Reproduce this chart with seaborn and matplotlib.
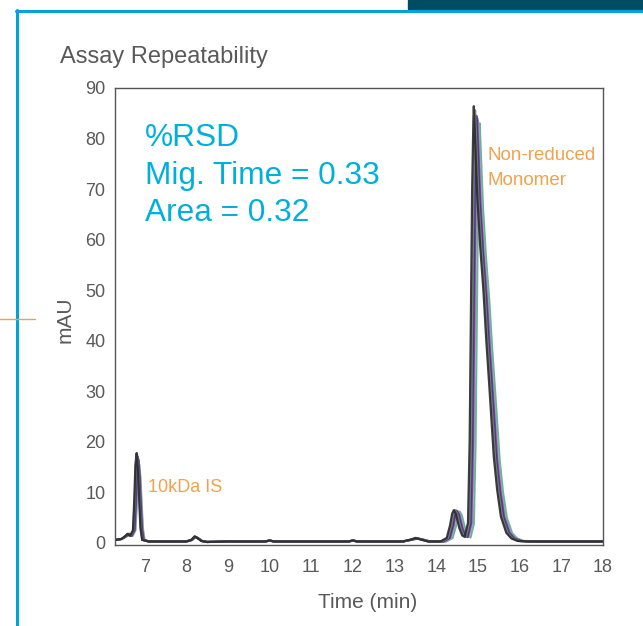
import pandas as pd
import matplotlib
matplotlib.use("Agg")
import matplotlib.pyplot as plt
from matplotlib.lines import Line2D
from matplotlib.patches import Rectangle
import seaborn as sns

# traces read off the overlay (time in min, signal in mAU)
# each run: IS region / flat middle / monomer region
t_black = [6.30, 6.45, 6.54, 6.59, 6.65, 6.72, 6.75, 6.78, 6.81, 6.84, 6.87, 6.90, 6.94,
           7.10, 7.50, 8.00, 8.12, 8.20, 8.27, 8.36, 8.50, 9.00, 9.90, 10.00, 10.10, 11.00, 11.90, 12.00, 12.10, 13.20, 13.40, 13.50, 13.62, 13.80,
           14.10, 14.25, 14.33, 14.38, 14.42, 14.47, 14.55, 14.62, 14.68, 14.76, 14.80, 14.83, 14.86, 14.89, 14.90,
           14.93, 14.98, 15.05, 15.13, 15.20, 15.28, 15.38, 15.46, 15.55, 15.68, 15.80, 15.95, 16.20, 17.00, 18.00]
v_black = [0.6, 0.8, 1.4, 1.8, 1.4, 2.5, 8.0, 15.5, 17.8, 14.5, 8.5, 3.0, 0.6,
           0.3, 0.3, 0.3, 0.6, 1.3, 1.0, 0.4, 0.2, 0.3, 0.3, 0.5, 0.3, 0.3, 0.3, 0.5, 0.3, 0.3, 0.7, 1.0, 0.7, 0.3,
           0.3, 1.0, 3.5, 5.8, 6.5, 5.8, 3.0, 1.5, 1.2, 4.0, 20.0, 45.0, 70.0, 84.0, 86.4,
           80.0, 69.0, 59.0, 50.0, 40.0, 30.0, 17.0, 10.5, 5.2, 2.0, 0.9, 0.4, 0.3, 0.3, 0.3]

t_gray = [6.30, 6.45, 6.55, 6.60, 6.66, 6.73, 6.76, 6.79, 6.82, 6.85, 6.88, 6.91, 6.95,
          7.10, 7.50, 8.00, 8.12, 8.20, 8.27, 8.36, 8.50, 9.00, 9.90, 10.00, 10.10, 11.00, 11.90, 12.00, 12.10, 13.20, 13.41, 13.51, 13.63, 13.81,
          14.13, 14.28, 14.36, 14.41, 14.45, 14.50, 14.58, 14.65, 14.71, 14.79, 14.83, 14.86, 14.89, 14.92, 14.93,
          14.96, 15.01, 15.08, 15.16, 15.23, 15.31, 15.41, 15.49, 15.58, 15.71, 15.83, 15.98, 16.23, 17.00, 18.00]
v_gray = [0.6, 0.8, 1.4, 1.8, 1.4, 2.5, 7.8, 15.2, 17.5, 14.3, 8.4, 3.0, 0.6,
          0.3, 0.3, 0.3, 0.6, 1.3, 1.0, 0.4, 0.2, 0.3, 0.3, 0.5, 0.3, 0.3, 0.3, 0.5, 0.3, 0.3, 0.7, 1.0, 0.7, 0.3,
          0.3, 1.0, 3.5, 5.8, 6.5, 5.8, 3.0, 1.5, 1.2, 4.0, 19.8, 44.5, 69.3, 83.2, 85.6,
          79.2, 68.3, 58.4, 49.5, 39.6, 29.7, 16.8, 10.4, 5.1, 2.0, 0.9, 0.4, 0.3, 0.3, 0.3]

t_navy = [6.30, 6.45, 6.56, 6.62, 6.68, 6.75, 6.78, 6.81, 6.84, 6.87, 6.90, 6.93, 6.97,
          7.10, 7.50, 8.00, 8.13, 8.21, 8.28, 8.37, 8.50, 9.00, 9.90, 10.00, 10.10, 11.00, 11.90, 12.00, 12.10, 13.20, 13.42, 13.52, 13.64, 13.82,
          14.16, 14.31, 14.39, 14.44, 14.48, 14.53, 14.61, 14.68, 14.74, 14.82, 14.86, 14.89, 14.92, 14.95, 14.96,
          14.99, 15.04, 15.11, 15.19, 15.26, 15.34, 15.44, 15.52, 15.61, 15.74, 15.86, 16.01, 16.26, 17.00, 18.00]
v_navy = [0.6, 0.8, 1.4, 1.8, 1.4, 2.5, 7.6, 14.8, 17.0, 14.0, 8.2, 2.9, 0.6,
          0.3, 0.3, 0.3, 0.6, 1.2, 0.9, 0.4, 0.2, 0.3, 0.3, 0.5, 0.3, 0.3, 0.3, 0.5, 0.3, 0.3, 0.7, 0.9, 0.7, 0.3,
          0.3, 1.0, 3.4, 5.7, 6.4, 5.7, 2.9, 1.5, 1.2, 3.9, 19.5, 44.0, 68.5, 82.5, 84.5,
          78.5, 67.5, 58.0, 49.0, 39.0, 29.5, 16.5, 10.3, 5.1, 2.0, 0.9, 0.4, 0.3, 0.3, 0.3]

t_purple = [6.30, 6.45, 6.57, 6.63, 6.69, 6.76, 6.79, 6.82, 6.85, 6.88, 6.91, 6.94, 6.98,
            7.10, 7.50, 8.00, 8.14, 8.22, 8.29, 8.38, 8.50, 9.00, 9.90, 10.00, 10.10, 11.00, 11.90, 12.00, 12.10, 13.20, 13.44, 13.54, 13.66, 13.84,
            14.18, 14.33, 14.41, 14.46, 14.50, 14.55, 14.63, 14.70, 14.76, 14.84, 14.88, 14.91, 14.94, 14.97, 14.98,
            15.01, 15.06, 15.13, 15.21, 15.28, 15.36, 15.46, 15.54, 15.63, 15.76, 15.88, 16.03, 16.28, 17.00, 18.00]
v_purple = [0.6, 0.8, 1.4, 1.8, 1.4, 2.5, 7.4, 14.4, 16.5, 13.6, 8.0, 2.9, 0.6,
            0.3, 0.3, 0.3, 0.6, 1.2, 0.9, 0.4, 0.2, 0.3, 0.3, 0.5, 0.3, 0.3, 0.3, 0.5, 0.3, 0.3, 0.7, 0.9, 0.7, 0.3,
            0.3, 1.0, 3.4, 5.6, 6.3, 5.6, 2.9, 1.5, 1.2, 3.9, 19.4, 43.7, 68.0, 81.6, 84.0,
            77.8, 67.0, 57.3, 48.6, 38.9, 29.2, 16.5, 10.2, 5.1, 2.0, 0.9, 0.4, 0.3, 0.3, 0.3]

t_pink = [6.30, 6.45, 6.58, 6.64, 6.70, 6.77, 6.80, 6.83, 6.86, 6.89, 6.92, 6.95, 6.99,
          7.10, 7.50, 8.00, 8.14, 8.22, 8.29, 8.38, 8.50, 9.00, 9.90, 10.00, 10.10, 11.00, 11.90, 12.00, 12.10, 13.20, 13.45, 13.55, 13.67, 13.85,
          14.20, 14.35, 14.43, 14.48, 14.52, 14.57, 14.65, 14.72, 14.78, 14.86, 14.90, 14.93, 14.96, 14.99, 15.00,
          15.03, 15.08, 15.15, 15.23, 15.30, 15.38, 15.48, 15.56, 15.65, 15.78, 15.90, 16.05, 16.30, 17.00, 18.00]
v_pink = [0.6, 0.8, 1.4, 1.8, 1.4, 2.5, 7.2, 14.0, 16.0, 13.2, 7.8, 2.8, 0.6,
          0.3, 0.3, 0.3, 0.6, 1.2, 0.9, 0.4, 0.2, 0.3, 0.3, 0.5, 0.3, 0.3, 0.3, 0.5, 0.3, 0.3, 0.7, 0.9, 0.7, 0.3,
          0.3, 1.0, 3.4, 5.6, 6.3, 5.6, 2.9, 1.5, 1.2, 3.9, 19.3, 43.5, 67.6, 81.1, 83.5,
          77.3, 66.7, 57.0, 48.3, 38.6, 29.0, 16.4, 10.1, 5.0, 1.9, 0.9, 0.4, 0.3, 0.3, 0.3]

t_green = [6.30, 6.45, 6.59, 6.65, 6.71, 6.78, 6.81, 6.84, 6.87, 6.90, 6.93, 6.96, 7.00,
           7.10, 7.50, 8.00, 8.14, 8.22, 8.29, 8.38, 8.50, 9.00, 9.90, 10.00, 10.10, 11.00, 11.90, 12.00, 12.10, 13.20, 13.46, 13.56, 13.68, 13.86,
           14.24, 14.39, 14.47, 14.52, 14.56, 14.61, 14.69, 14.76, 14.82, 14.90, 14.94, 14.97, 15.00, 15.03, 15.04,
           15.07, 15.12, 15.19, 15.27, 15.34, 15.42, 15.52, 15.60, 15.69, 15.82, 15.94, 16.09, 16.34, 17.00, 18.00]
v_green = [0.6, 0.8, 1.4, 1.8, 1.4, 2.5, 7.0, 13.6, 15.5, 12.8, 7.6, 2.8, 0.6,
           0.3, 0.3, 0.3, 0.6, 1.2, 0.9, 0.4, 0.2, 0.3, 0.3, 0.5, 0.3, 0.3, 0.3, 0.5, 0.3, 0.3, 0.7, 0.9, 0.7, 0.3,
           0.3, 1.0, 3.3, 5.5, 6.2, 5.5, 2.8, 1.4, 1.1, 3.8, 19.2, 43.2, 67.2, 80.6, 83.0,
           76.8, 66.3, 56.7, 48.0, 38.4, 28.8, 16.3, 10.0, 5.0, 1.9, 0.9, 0.4, 0.3, 0.3, 0.3]

runs = {
    "green": (t_green, v_green),
    "pink": (t_pink, v_pink),
    "purple": (t_purple, v_purple),
    "navy": (t_navy, v_navy),
    "gray": (t_gray, v_gray),
    "black": (t_black, v_black),
}
run_colors = {"green": "#4fb383", "pink": "#cc8fcc", "purple": "#6b4b98",
              "navy": "#3a3d80", "gray": "#7a7a7a", "black": "#2a2a2a"}

x_ticks = list(range(7, 19))
y_ticks = list(range(0, 100, 10))

frames = []
for name, (t, v) in runs.items():
    frames.append(pd.DataFrame({"time": t, "mAU": v, "run": name}))
df = pd.concat(frames, ignore_index=True)

sns.set_style("white")
plt.rcParams["font.family"] = ["Liberation Sans", "DejaVu Sans"]

grey_txt = "#595959"
cyan = "#00b0dc"
orange = "#f4a14c"

fig = plt.figure(figsize=(6.43, 6.26), dpi=100)
ax = fig.add_axes([115 / 643, 1 - 545 / 626, 488 / 643, 457 / 626])

sns.lineplot(data=df, x="time", y="mAU", hue="run", hue_order=list(runs.keys()),
             palette=run_colors, estimator=None, sort=False, legend=False,
             linewidth=1.6, alpha=0.9, ax=ax)

ax.set_xlim(6.29, 18)
ax.set_ylim(-0.4, 90)
ax.set_xticks(x_ticks)
ax.set_yticks(y_ticks)
ax.set_xlabel("")
ax.set_ylabel("")
for s in ax.spines.values():
    s.set_color("#555555")
    s.set_linewidth(1)
ax.tick_params(direction="out", length=5, width=1, color="#555555",
               labelcolor=grey_txt, labelsize=13)
ax.tick_params(axis="y", pad=2)
ax.tick_params(axis="x", pad=5)

# annotations
ax.text(7.0, 78.5, "%RSD", color=cyan, fontsize=22.8, va="baseline")
ax.text(7.0, 71.1, "Mig. Time = 0.33", color=cyan, fontsize=22.8, va="baseline")
ax.text(7.0, 63.6, "Area = 0.32", color=cyan, fontsize=22.8, va="baseline")
ax.text(15.23, 75.7, "Non-reduced", color=orange, fontsize=13.5, va="baseline")
ax.text(15.23, 70.8, "Monomer", color=orange, fontsize=13.5, va="baseline")
ax.text(7.08, 10.1, "10kDa IS", color=orange, fontsize=13, va="baseline")

fig.text(60 / 643, 1 - 63 / 626, "Assay Repeatability", color=grey_txt, fontsize=17, va="baseline")
fig.text(65 / 643, 1 - 320 / 626, "mAU", color=grey_txt, fontsize=15, rotation=90, ha="center", va="center")
fig.text(368 / 643, 1 - 608 / 626, "Time (min)", color=grey_txt, fontsize=15, ha="center", va="baseline")

# page frame decorations
fig.add_artist(Rectangle((408 / 643, 1 - 9 / 626), 1, 9 / 626, color="#004d63", transform=fig.transFigure))
fig.add_artist(Line2D([16 / 643, 1], [1 - 11 / 626, 1 - 11 / 626], color="#00a3d9", lw=2.2, transform=fig.transFigure))
fig.add_artist(Line2D([17 / 643, 17 / 643], [0, 1 - 10 / 626], color="#00a3d9", lw=2.2, transform=fig.transFigure))
fig.add_artist(Line2D([0, 35 / 643], [1 - 319 / 626, 1 - 319 / 626], color="#f0a050", lw=1, transform=fig.transFigure))

fig.savefig("out.png", dpi=100)
